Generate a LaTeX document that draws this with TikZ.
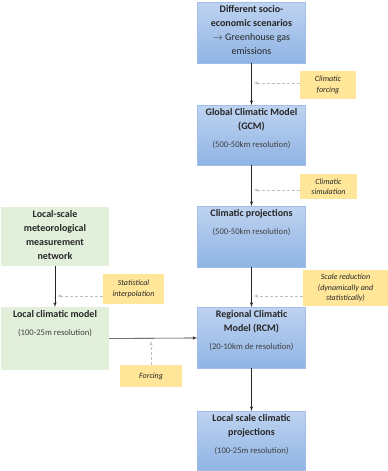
\documentclass[tikz,border=0pt]{standalone}
\usepackage{fontspec}
\setmainfont{Carlito}
\usepackage{tikz}
\usetikzlibrary{arrows}
\usetikzlibrary{positioning}
\definecolor{bluetop}{RGB}{190,211,240}
\definecolor{bluebottom}{RGB}{143,180,228}
\definecolor{blueline}{RGB}{160,190,232}
\definecolor{greenfill}{RGB}{226,239,218}
\definecolor{notefill}{RGB}{255,230,153}
\definecolor{hintgray}{RGB}{190,190,190}
\definecolor{textdark}{RGB}{38,38,38}
\definecolor{textsoft}{RGB}{64,64,64}
\newcommand{\boxbody}[2]{\parbox[c][#1pt][t]{108pt}{\centering\vspace*{3pt}#2}}
\newcommand{\resol}[1]{\\[4pt]{\color{textsoft}\fontsize{8.6}{10}\selectfont #1}}
\tikzset{bluebox/.style = {draw=blueline, top color=bluetop, bottom color=bluebottom,
                           inner sep=0, text=textdark, anchor=north,
                           font=\fontsize{10}{14}\selectfont}}
\tikzset{greenbox/.style = {fill=greenfill, inner sep=0, text=textdark, anchor=north,
                            font=\fontsize{10}{14}\selectfont}}
\tikzset{note/.style = {fill=notefill, align=center, inner sep=0, text=textdark,
                        font=\itshape\fontsize{8}{10.5}\selectfont}}
\tikzset{flow/.style = {-latex', line width=0.6pt, black!85}}
\tikzset{hint/.style = {-latex', line width=0.6pt, hintgray, dash pattern=on 3pt off 2pt}}

\begin{document}
\begin{tikzpicture}[x=1pt, y=-1pt]
  \useasboundingbox (0,0) rectangle (388,471);
  % model chain
  \node [bluebox] (ssp) at (251.5, 2) {\boxbody{61}{\textbf{Different socio-\\economic scenarios}\\$\rightarrow$ Greenhouse gas\\emissions}};
  \node [bluebox] (gcm) at (251.5, 105) {\boxbody{60}{\textbf{Global Climatic Model\\(GCM)}\resol{(500-50km resolution)}}};
  \node [bluebox] (proj) at (251.5, 206) {\boxbody{61}{\textbf{Climatic projections}\resol{(500-50km resolution)}}};
  \node [bluebox] (rcm) at (251.5, 307) {\boxbody{61}{\textbf{Regional Climatic\\Model (RCM)}\resol{(20-10km de resolution)}}};
  \node [bluebox] (lproj) at (251.5, 411) {\boxbody{59}{\textbf{Local scale climatic\\projections}\resol{(100-25m resolution)}}};
  % local observations
  \node [greenbox] (network) at (55, 207) {\boxbody{59}{\textbf{Local-scale\\meteorological\\measurement\\network}}};
  \node [greenbox] (lcm) at (55, 307) {\boxbody{63}{\textbf{Local climatic model}\resol{(100-25m resolution)}}};
  % notes
  \node [note, minimum width=56, minimum height=28] (forcing) at (328, 85) {Climatic\\forcing};
  \node [note, minimum width=57, minimum height=25] (simul) at (328.5, 186.5) {Climatic\\simulation};
  \node [note, minimum width=85, minimum height=36] (downscale) at (345.5, 288) {Scale reduction\\(dynamically and\\statistically)};
  \node [note, minimum width=61, minimum height=30] (interp) at (133.5, 289) {Statistical\\interpolation};
  \node [note, minimum width=62, minimum height=22] (forcingnote) at (151, 376) {Forcing};
  \coordinate (forcingend) at (151, 341);
  % arrows
  \draw [flow] (ssp) -- (gcm);
  \draw [flow] (gcm) -- (proj);
  \draw [flow] (proj) -- (rcm);
  \draw [flow] (rcm) -- (lproj);
  \draw [flow] (network) -- (lcm);
  \draw [flow] (lcm) -- (rcm);
  \draw [hint] ([yshift=2]forcing.west) -- ([yshift=2, xshift=2]forcing.west -| ssp.south);
  \draw [hint] ([yshift=-3.5]simul.west) -- ([yshift=-3.5, xshift=2]simul.west -| gcm.south);
  \draw [hint] ([yshift=-8]downscale.west) -- ([yshift=-8, xshift=2]downscale.west -| proj.south);
  \draw [hint] ([yshift=-7]interp.west) -- ([yshift=-7, xshift=2]interp.west -| network.south);
  \draw [hint] (forcingnote.north) -- (forcingend);
\end{tikzpicture}
\end{document}
